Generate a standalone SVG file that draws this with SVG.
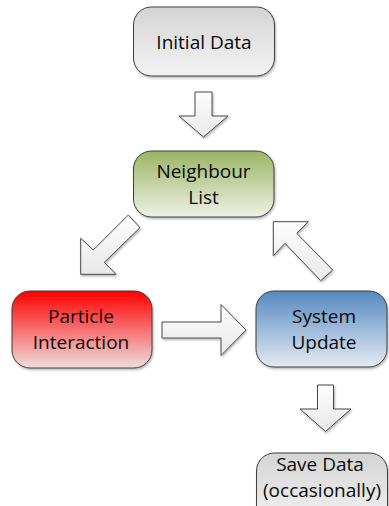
<svg xmlns="http://www.w3.org/2000/svg" width="389" height="506" viewBox="0 0 389 506">
  <defs>
    <linearGradient id="gGray" x1="0" y1="0" x2="0" y2="1">
      <stop offset="0" stop-color="#d4d4d4"/>
      <stop offset="1" stop-color="#f3f3f3"/>
    </linearGradient>
    <linearGradient id="gGreen" x1="0" y1="0" x2="0" y2="1">
      <stop offset="0" stop-color="#9bb465"/>
      <stop offset="1" stop-color="#eef1e5"/>
    </linearGradient>
    <linearGradient id="gRed" x1="0" y1="0" x2="0" y2="1">
      <stop offset="0" stop-color="#ff0000"/>
      <stop offset="1" stop-color="#efdede"/>
    </linearGradient>
    <linearGradient id="gBlue" x1="0" y1="0" x2="0" y2="1">
      <stop offset="0" stop-color="#5589c0"/>
      <stop offset="1" stop-color="#e4eaf3"/>
    </linearGradient>
    <linearGradient id="gArrow" x1="0" y1="0" x2="0" y2="1">
      <stop offset="0" stop-color="#fdfdfd"/>
      <stop offset="1" stop-color="#e9e9e9"/>
    </linearGradient>
    <filter id="shadow" x="-10%" y="-10%" width="120%" height="130%">
      <feDropShadow dx="1" dy="1.5" stdDeviation="1" flood-color="#000" flood-opacity="0.3"/>
    </filter>
  </defs>
  <style>
    .box { stroke: #3f3f3f; stroke-width: 1; filter: url(#shadow); }
    .arrow { fill: url(#gArrow); stroke: #4a4a4a; stroke-width: 1; stroke-linejoin: miter; filter: url(#shadow); }
    .label { font-family: "Open Sans", "Liberation Sans", sans-serif; font-size: 19px; fill: #0a0a0a; text-anchor: middle; }
  </style>

  <g id="connectors">
    <!-- Initial Data -> Neighbour List -->
    <polygon class="arrow" points="195,92 212,92 212,116 228,116 203.5,137 179,116 195,116"/>
    <!-- Neighbour List -> Particle Interaction -->
    <polygon class="arrow" points="128.3,215 140,227.7 104.3,262.3 116,274.3 80.7,274.3 80.7,238.3 93.3,250"/>
    <!-- Particle Interaction -> System Update -->
    <polygon class="arrow" points="162,322 221,322 221,304.5 246,330 221,355.5 221,338 162,338"/>
    <!-- System Update -> Neighbour List -->
    <polygon class="arrow" points="273.3,221.7 308.3,221.7 296.7,233.3 332.7,270 320.7,280.7 285,243.3 273.3,255.7"/>
    <!-- System Update -> Save Data -->
    <polygon class="arrow" points="317.5,385 333.5,385 333.5,409 351,409 325.5,431.5 300,409 317.5,409"/>
  </g>

  <g id="initial-data">
    <rect class="box" x="133.5" y="7" width="141" height="69" rx="18" fill="url(#gGray)"/>
    <text class="label" x="204" y="49">Initial Data</text>
  </g>

  <g id="neighbour-list">
    <rect class="box" x="133.5" y="151" width="140.5" height="66" rx="18" fill="url(#gGreen)"/>
    <text class="label" x="203.5" y="178">Neighbour</text>
    <text class="label" x="203.5" y="204">List</text>
  </g>

  <g id="particle-interaction">
    <rect class="box" x="12" y="291" width="140" height="77" rx="18" fill="url(#gRed)"/>
    <text class="label" x="81" y="323">Particle</text>
    <text class="label" x="81" y="349">Interaction</text>
  </g>

  <g id="system-update">
    <rect class="box" x="256" y="291" width="131" height="76" rx="18" fill="url(#gBlue)"/>
    <text class="label" x="324" y="323">System</text>
    <text class="label" x="324" y="349">Update</text>
  </g>

  <g id="save-data">
    <rect class="box" x="256.5" y="453" width="131" height="72" rx="18" fill="url(#gGray)"/>
    <text class="label" x="320" y="471">Save Data</text>
    <text class="label" x="322" y="497">(occasionally)</text>
  </g>
</svg>
